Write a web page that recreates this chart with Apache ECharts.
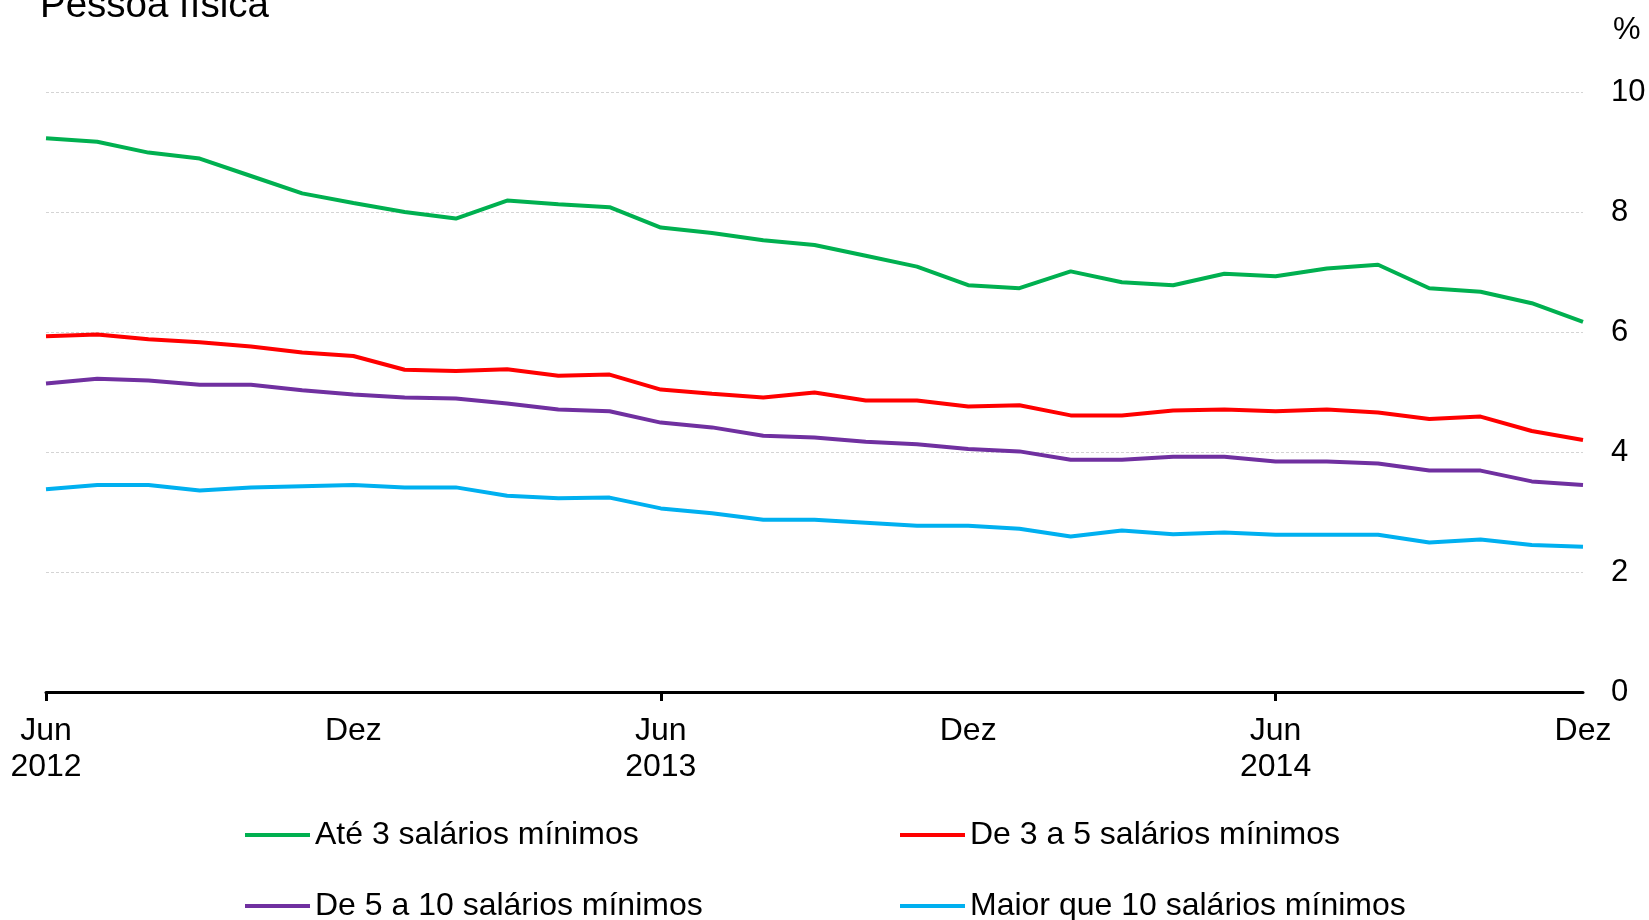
<!DOCTYPE html>
<html>
<head>
<meta charset="utf-8">
<script src="https://cdn.jsdelivr.net/npm/echarts@6/dist/echarts.min.js"></script>
<style>
html,body{margin:0;padding:0;background:#fff;}
#chart{width:1649px;height:920px;}
</style>
</head>
<body>
<div id="chart"></div>
<script>
const categories = [
  'Jun 2012','Jul 2012','Ago 2012','Set 2012','Out 2012','Nov 2012','Dez 2012',
  'Jan 2013','Fev 2013','Mar 2013','Abr 2013','Mai 2013','Jun 2013','Jul 2013','Ago 2013','Set 2013','Out 2013','Nov 2013','Dez 2013',
  'Jan 2014','Fev 2014','Mar 2014','Abr 2014','Mai 2014','Jun 2014','Jul 2014','Ago 2014','Set 2014','Out 2014','Nov 2014','Dez 2014'
];
const tickLabels = {
  'Jun 2012': 'Jun\n2012', 'Dez 2012': 'Dez',
  'Jun 2013': 'Jun\n2013', 'Dez 2013': 'Dez',
  'Jun 2014': 'Jun\n2014', 'Dez 2014': 'Dez'
};
const yTicks = [0, 2, 4, 6, 8, 10];

const ate3 = [9.23, 9.17, 8.99, 8.89, 8.60, 8.31, 8.15, 8.00, 7.89, 8.19, 8.13, 8.08, 7.74, 7.65, 7.53, 7.45, 7.27, 7.09, 6.78, 6.73, 7.01, 6.83, 6.78, 6.97, 6.93, 7.06, 7.12, 6.73, 6.67, 6.48, 6.17];
const de3a5 = [5.93, 5.96, 5.88, 5.83, 5.76, 5.66, 5.60, 5.37, 5.35, 5.38, 5.27, 5.29, 5.04, 4.97, 4.91, 4.99, 4.86, 4.86, 4.76, 4.78, 4.61, 4.61, 4.69, 4.71, 4.68, 4.71, 4.66, 4.55, 4.59, 4.35, 4.20];
const de5a10 = [5.14, 5.22, 5.19, 5.12, 5.12, 5.03, 4.96, 4.91, 4.89, 4.81, 4.71, 4.68, 4.49, 4.41, 4.27, 4.24, 4.17, 4.13, 4.05, 4.01, 3.87, 3.87, 3.92, 3.92, 3.84, 3.84, 3.81, 3.69, 3.69, 3.51, 3.45];
const maior10 = [3.38, 3.45, 3.45, 3.36, 3.41, 3.43, 3.45, 3.41, 3.41, 3.27, 3.23, 3.24, 3.06, 2.98, 2.87, 2.87, 2.82, 2.77, 2.77, 2.72, 2.59, 2.69, 2.63, 2.66, 2.62, 2.62, 2.62, 2.49, 2.54, 2.45, 2.42];

const seriesNames = ['Até 3 salários mínimos', 'De 3 a 5 salários mínimos', 'De 5 a 10 salários mínimos', 'Maior que 10 salários mínimos'];
const seriesColors = ['#00B050', '#FF0000', '#7030A0', '#00B0F0'];
const seriesData = [ate3, de3a5, de5a10, maior10];

const FONT = '"Liberation Sans", Arial, sans-serif';
const chart = echarts.init(document.getElementById('chart'), null, {renderer: 'canvas'});

const legendPos = [
  {left: 245, top: 817},
  {left: 900, top: 817},
  {left: 245, top: 888},
  {left: 900, top: 888}
];

const option = {
  backgroundColor: '#ffffff',
  animation: false,
  title: [
    {text: 'Pessoa física', left: 40, top: -13, padding: 0,
     textStyle: {fontFamily: FONT, fontSize: 38.5, fontWeight: 'normal', color: '#000', lineHeight: 38}},
    {text: '%', left: 1613, top: 15, padding: 0,
     textStyle: {fontFamily: FONT, fontSize: 31, fontWeight: 'normal', color: '#000', lineHeight: 31}}
  ],
  legend: seriesNames.map((n, i) => ({
    data: [n],
    left: legendPos[i].left,
    top: legendPos[i].top,
    padding: 0,
    icon: 'rect',
    itemWidth: 65,
    itemHeight: 4,
    selectedMode: false,
    textStyle: {fontFamily: FONT, fontSize: 32, color: '#000', lineHeight: 36, padding: [0, 0, 0, 0]}
  })),
  grid: {left: 46, right: 66, top: 92, bottom: 228, containLabel: false},
  xAxis: {
    type: 'category',
    data: categories,
    boundaryGap: false,
    axisLine: {show: true, lineStyle: {color: '#000', width: 3}},
    axisTick: {show: true, length: 9, lineStyle: {color: '#000', width: 3},
               interval: (i) => i % 12 === 0},
    axisLabel: {
      interval: 0,
      margin: 21,
      fontFamily: FONT, fontSize: 32, color: '#000', lineHeight: 36,
      formatter: (v) => tickLabels[v] || ''
    },
    splitLine: {show: false}
  },
  yAxis: {
    type: 'value',
    position: 'right',
    min: yTicks[0],
    max: yTicks[yTicks.length - 1],
    interval: 2,
    axisLine: {show: false},
    axisTick: {show: false},
    axisLabel: {margin: 28, fontFamily: FONT, fontSize: 31, color: '#000'},
    splitLine: {show: true, lineStyle: {color: '#d4d4d4', width: 1, type: [3, 2]}}
  },
  series: seriesNames.map((n, i) => ({
    name: n,
    type: 'line',
    data: seriesData[i],
    showSymbol: false,
    symbol: 'none',
    smooth: false,
    color: seriesColors[i],
    itemStyle: {color: seriesColors[i]},
    lineStyle: {color: seriesColors[i], width: 4},
    z: 10 - i
  }))
};
chart.setOption(option);
</script>
</body>
</html>
